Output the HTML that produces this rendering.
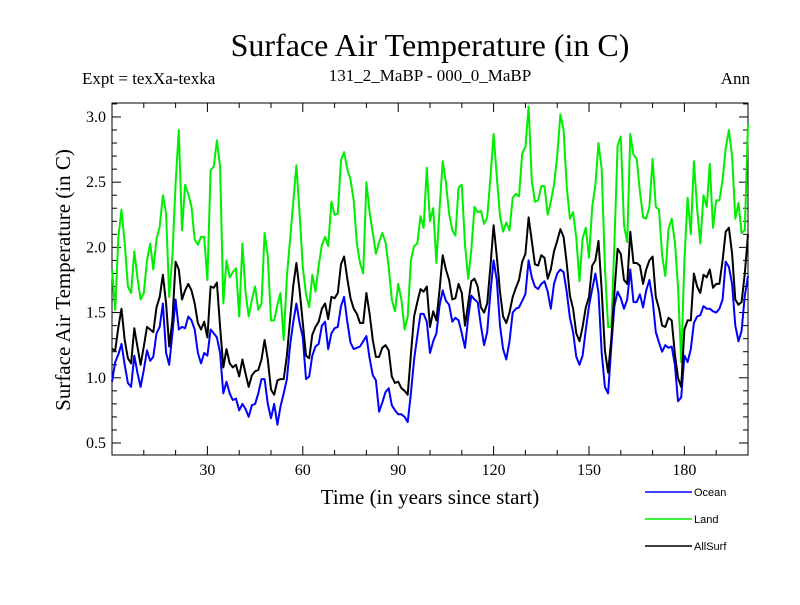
<!DOCTYPE html>
<html><head><meta charset="utf-8">
<style>
body{margin:0;background:#fff;}
svg text{font-family:"Liberation Serif",serif;}
</style></head>
<body>
<svg id="chart" width="800" height="600" viewBox="0 0 800 600" xmlns="http://www.w3.org/2000/svg">
<rect width="800" height="600" fill="#fff"/>
<text x="430" y="56" font-size="32" text-anchor="middle">Surface Air Temperature (in C)</text>
<text x="82" y="84" font-size="17">Expt = texXa-texka</text>
<text x="430" y="81" font-size="17" text-anchor="middle">131_2_MaBP - 000_0_MaBP</text>
<text x="750" y="84" font-size="17" text-anchor="end">Ann</text>
<g id="axes"></g>
<g id="series"></g>
<text x="430" y="504" font-size="21" text-anchor="middle">Time (in years since start)</text>
<text transform="translate(70,280) rotate(-90)" font-size="21" text-anchor="middle">Surface Air Temperature (in C)</text>
<g id="legend"></g>
</svg>
<script>
const ocean=[0.97,1.12,1.18,1.26,1.10,0.96,0.93,1.17,1.04,0.93,1.06,1.21,1.13,1.16,1.34,1.39,1.57,1.19,1.10,1.34,1.60,1.37,1.39,1.38,1.47,1.44,1.37,1.19,1.11,1.19,1.17,1.37,1.34,1.31,1.19,0.88,0.97,0.88,0.83,0.84,0.75,0.80,0.76,0.70,0.79,0.80,0.88,0.99,0.99,0.80,0.69,
0.80,0.64,0.78,0.88,0.99,1.25,1.43,1.57,1.42,1.31,0.99,1.01,1.17,1.24,1.26,1.40,1.43,1.22,1.34,1.38,1.39,1.55,1.62,1.43,1.27,1.22,1.23,1.24,1.28,1.32,1.15,1.02,0.98,0.74,0.81,0.89,0.92,0.79,0.75,0.72,0.72,0.70,0.66,0.88,1.14,1.32,1.49,1.49,1.43,1.19,
1.28,1.34,1.55,1.67,1.59,1.56,1.43,1.46,1.44,1.34,1.23,1.46,1.63,1.60,1.58,1.40,1.25,1.35,1.65,1.90,1.75,1.40,1.22,1.14,1.28,1.50,1.53,1.54,1.59,1.64,1.90,1.77,1.70,1.68,1.72,1.74,1.66,1.53,1.72,1.80,1.83,1.81,1.66,1.46,1.35,1.16,1.10,1.17,1.37,1.55,
1.68,1.80,1.65,1.19,0.93,0.88,1.24,1.55,1.66,1.61,1.53,1.60,1.83,1.58,1.58,1.64,1.54,1.67,1.75,1.60,1.35,1.27,1.20,1.25,1.23,1.24,1.10,0.82,0.85,1.17,1.12,1.22,1.42,1.47,1.48,1.55,1.53,1.53,1.51,1.50,1.53,1.60,1.89,1.85,1.72,1.40,1.28,1.36,1.63,1.78];
const land=[1.83,1.52,2.08,2.29,2.03,1.70,1.65,1.97,1.77,1.60,1.65,1.90,2.03,1.83,2.06,2.16,2.40,2.26,1.62,1.93,2.49,2.90,2.13,2.48,2.41,2.31,2.06,2.02,2.08,2.08,1.75,2.59,2.62,2.82,2.62,1.57,1.90,1.77,1.81,1.84,1.47,2.03,1.65,1.47,1.60,1.70,1.52,1.57,2.11,1.93,1.44,
1.44,1.56,1.65,1.29,1.78,2.06,2.35,2.63,2.26,1.85,1.64,1.54,1.79,1.66,1.86,2.02,2.08,2.01,2.35,2.25,2.26,2.67,2.73,2.60,2.52,2.36,2.03,1.88,1.80,2.50,2.27,2.11,1.95,2.04,2.11,2.04,1.85,1.60,1.51,1.72,1.60,1.37,1.47,1.90,2.01,2.03,2.24,2.15,2.61,2.20,
2.30,1.88,2.29,2.66,2.50,2.26,2.13,2.09,2.46,2.48,2.02,1.76,1.98,2.31,2.27,2.28,2.18,2.23,2.53,2.87,2.54,2.24,2.12,2.19,2.13,2.38,2.41,2.39,2.72,2.77,3.08,2.51,2.35,2.36,2.47,2.47,2.25,2.35,2.48,2.70,3.02,2.90,2.47,2.22,2.27,2.07,1.74,2.07,2.15,1.92,
2.31,2.48,2.80,2.60,1.85,1.39,1.39,2.03,2.78,2.85,2.17,2.04,2.87,2.71,2.68,2.43,2.23,2.22,2.31,2.68,2.31,2.29,1.94,1.78,2.14,2.22,2.04,1.70,1.12,1.90,2.38,2.10,2.66,2.30,2.03,2.40,2.31,2.64,2.15,2.36,2.36,2.52,2.76,2.90,2.70,2.22,2.34,2.11,2.13,2.95];
const allsurf=[1.22,1.21,1.39,1.53,1.29,1.15,1.11,1.38,1.24,1.10,1.24,1.39,1.37,1.35,1.54,1.62,1.79,1.57,1.24,1.44,1.89,1.83,1.60,1.67,1.72,1.67,1.57,1.42,1.37,1.43,1.31,1.70,1.69,1.73,1.39,1.08,1.22,1.11,1.08,1.10,1.01,1.14,1.03,0.93,1.02,1.05,1.06,1.14,1.29,1.14,0.91,
0.87,0.98,0.99,0.99,1.17,1.45,1.71,1.88,1.67,1.42,1.17,1.15,1.33,1.39,1.43,1.53,1.57,1.45,1.62,1.61,1.65,1.87,1.93,1.76,1.61,1.53,1.49,1.42,1.42,1.65,1.49,1.29,1.16,1.16,1.23,1.25,1.21,1.01,0.96,0.97,0.92,0.90,0.87,1.18,1.47,1.58,1.68,1.66,1.70,1.39,
1.51,1.44,1.67,1.94,1.83,1.75,1.60,1.61,1.72,1.65,1.40,1.57,1.74,1.76,1.70,1.54,1.50,1.57,1.85,2.17,1.93,1.66,1.47,1.42,1.50,1.62,1.69,1.75,1.89,1.95,2.23,2.05,1.87,1.86,1.94,1.92,1.76,1.83,1.97,2.05,2.14,2.08,1.88,1.63,1.53,1.34,1.28,1.39,1.54,1.62,
1.86,1.90,2.05,1.67,1.21,1.04,1.30,1.65,1.99,1.95,1.75,1.72,2.12,1.88,1.88,1.86,1.72,1.83,1.90,1.93,1.62,1.53,1.40,1.39,1.46,1.44,1.18,1.00,0.93,1.37,1.44,1.44,1.80,1.70,1.65,1.79,1.77,1.83,1.69,1.72,1.72,1.90,2.12,2.15,1.95,1.60,1.56,1.58,1.80,2.10];
const xTicks=[30,60,90,120,150,180];
const yTicks=[0.5,1.0,1.5,2.0,2.5,3.0];
const seriesNames=["Ocean","Land","AllSurf"];
const seriesColors=["#0000ff","#00ee00","#000000"];

const NS="http://www.w3.org/2000/svg";
const L=112,R=748,T=103,B=455;
const X0=0,X1=200,Y0=0.408,Y1=3.107;
const xs=v=>L+(v-X0)/(X1-X0)*(R-L);
const ys=v=>B-(v-Y0)/(Y1-Y0)*(B-T);
function mk(tag,attrs,parent){const e=document.createElementNS(NS,tag);for(const k in attrs)e.setAttribute(k,attrs[k]);parent.appendChild(e);return e;}
const axes=document.getElementById('axes');
const frame=mk('rect',{x:L,y:T,width:R-L,height:B-T,fill:'none',stroke:'#000','stroke-width':1},axes);


for(let v=10;v<200;v+=10){
  const big=v%30===0;const len=big?9:5;
  const t1=mk('line',{x1:xs(v),x2:xs(v),y1:B,y2:B-len,stroke:'#000'},axes);
  
  
  const t2=mk('line',{x1:xs(v),x2:xs(v),y1:T,y2:T+len,stroke:'#000'},axes);
  
  
}
for(let i=5;i<=31;i++){
  const v=i/10;const big=i%5===0;const len=big?9:5;
  const t1=mk('line',{x1:L,x2:L+len,y1:ys(v),y2:ys(v),stroke:'#000'},axes);
  
  
  const t2=mk('line',{x1:R,x2:R-len,y1:ys(v),y2:ys(v),stroke:'#000'},axes);
  
  
}
xTicks.forEach(v=>{
  const t=mk('text',{x:xs(v),y:B+20,'font-size':16,'text-anchor':'middle'},axes);
  t.textContent=v;
  
  
});
yTicks.forEach(v=>{
  const t=mk('text',{x:L-6,y:ys(v)+5,'font-size':16,'text-anchor':'end'},axes);
  t.textContent=v.toFixed(1);
  
  
});
const sg=document.getElementById('series');
[ocean,land,allsurf].forEach((arr,k)=>{
  const d=arr.map((v,i)=>(i?'L':'M')+xs(i).toFixed(1)+','+ys(v).toFixed(1)).join(' ');
  const p=mk('path',{d:d,fill:'none',stroke:seriesColors[k],'stroke-width':2,'stroke-linejoin':'round'},sg);
  
  
});
const lg=document.getElementById('legend');
seriesNames.forEach((n,k)=>{
  const y=492+k*27;
  const l=mk('line',{x1:645,x2:692,y1:y,y2:y,stroke:seriesColors[k],'stroke-width':1.5},lg);
  
  
  const t=mk('text',{x:694,y:y+4,'font-size':11,style:'font-family:"Liberation Sans",sans-serif'},lg);
  t.textContent=n;
  
  
});
</script>
</body></html>
